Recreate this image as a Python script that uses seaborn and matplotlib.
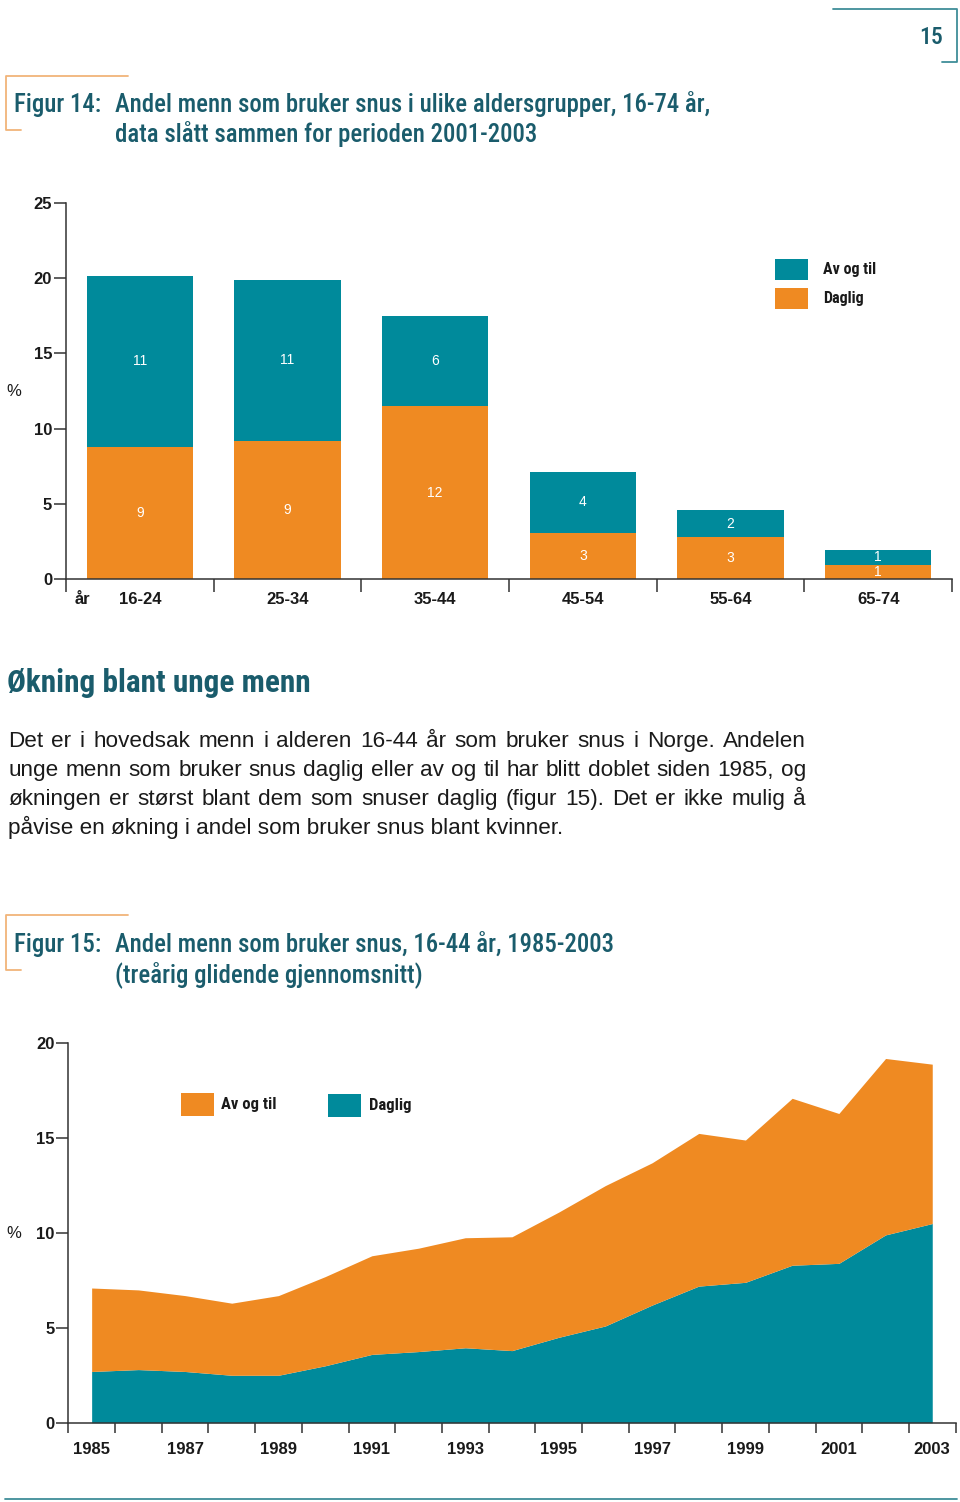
import numpy as np
import pandas as pd
import matplotlib
matplotlib.use("Agg")
import matplotlib.pyplot as plt
from matplotlib.patches import Rectangle
from matplotlib.lines import Line2D
import seaborn as sns

# Figur 14: andel menn som bruker snus, 2001-2003
age_groups = ["16-24", "25-34", "35-44", "45-54", "55-64", "65-74"]
daglig_14 = [8.8, 9.2, 11.5, 3.1, 2.8, 0.95]
av_og_til_14 = [11.35, 10.7, 6.0, 4.05, 1.8, 1.0]
daglig_14_labels = ["9", "9", "12", "3", "3", "1"]
av_og_til_14_labels = ["11", "11", "6", "4", "2", "1"]

# Figur 15: 16-44 år, treårig glidende gjennomsnitt
years = list(range(1985, 2004))
daglig_15 = [2.7, 2.8, 2.7, 2.5, 2.5, 3.0, 3.6, 3.75, 3.95, 3.8,
             4.5, 5.1, 6.2, 7.2, 7.4, 8.3, 8.4, 9.9, 10.5]
av_og_til_15 = [4.4, 4.2, 4.0, 3.8, 4.2, 4.7, 5.2, 5.45, 5.8, 6.0,
                6.6, 7.4, 7.5, 8.05, 7.5, 8.8, 7.9, 9.3, 8.4]
year_labels = [str(y) for y in range(1985, 2004, 2)]

paragraph = [
    "Det er i hovedsak menn i alderen 16-44 år som bruker snus i Norge. Andelen",
    "unge menn som bruker snus daglig eller av og til har blitt doblet siden 1985, og",
    "økningen er størst blant dem som snuser daglig (figur 15). Det er ikke mulig å",
    "påvise en økning i andel som bruker snus blant kvinner.",
]

TEAL = "#008a9b"
ORANGE = "#ef8a22"
TITLE = "#1a5c6c"
BRACKET_ORANGE = "#f1b47a"
BRACKET_TEAL = "#3f8e98"
AXIS = "#333333"
TEXT = "#1a1a1a"

SANS = ["Liberation Sans", "DejaVu Sans"]
NARROW = ["Roboto Condensed", "DejaVu Sans"]

sns.set_theme(style="white")
plt.rcParams["font.family"] = SANS

W, H = 960, 1502
fig = plt.figure(figsize=(W / 100, H / 100), dpi=100)
renderer = fig.canvas.get_renderer()


def fx(x):
    return x / W


def fy(y):
    return 1 - y / H


def page_line(xs, ys, color):
    fig.add_artist(Line2D([fx(x) for x in xs], [fy(y) for y in ys],
                          color=color, lw=1.3, transform=fig.transFigure))


def swatch(x0, y0, x1, y1, color, label, gap, size):
    # legend key drawn in page pixels
    fig.add_artist(Rectangle((fx(x0), fy(y1)), fx(x1) - fx(x0), (y1 - y0) / H,
                             color=color, lw=0, transform=fig.transFigure))
    fig.text(fx(x1 + gap), fy((y0 + y1) / 2), label, family=NARROW,
             fontweight="bold", fontsize=size, color=TEXT, va="center")


def justify(line, y, x0, x1, **kw):
    words = line.split()
    texts = [fig.text(0, fy(y), w, **kw) for w in words]
    widths = [t.get_window_extent(renderer).width for t in texts]
    gap = (x1 - x0 - sum(widths)) / (len(words) - 1)
    x = x0
    for t, w in zip(texts, widths):
        t.set_x(fx(x))
        x += w + gap


# page frame and number
page_line([833, 957, 957, 942], [9, 9, 62, 62], BRACKET_TEAL)
fig.text(fx(931), fy(37), "15", family=NARROW, fontsize=17, fontweight="medium",
         color=TITLE, ha="center", va="center")

# title brackets
for top, bottom in [(76, 130), (915, 970)]:
    page_line([128, 6, 6, 21], [top, top, bottom, bottom], BRACKET_ORANGE)

title_kw = dict(family=NARROW, fontsize=17.8, fontweight="medium", color=TITLE)
fig.text(fx(14), fy(112), "Figur 14:", **title_kw)
fig.text(fx(115), fy(112), "Andel menn som bruker snus i ulike aldersgrupper, 16-74 år,",
         **title_kw)
fig.text(fx(115), fy(142), "data slått sammen for perioden 2001-2003", **title_kw)

fig.text(fx(14), fy(952), "Figur 15:", **title_kw)
fig.text(fx(115), fy(952), "Andel menn som bruker snus, 16-44 år, 1985-2003", **title_kw)
fig.text(fx(115), fy(982), "(treårig glidende gjennomsnitt)", **title_kw)

# heading and body text
fig.text(fx(7), fy(692), "Økning blant unge menn", family=NARROW, fontsize=22.5,
         fontweight="bold", color=TITLE)
for i, line in enumerate(paragraph):
    if i < len(paragraph) - 1:
        justify(line, 747 + i * 29, 8, 806, fontsize=16.2, color=TEXT)
    else:
        fig.text(fx(8), fy(747 + i * 29), line, fontsize=16.2, color=TEXT)

# ---------- Figur 14: stacked bars ----------
df14 = pd.DataFrame({"gruppe": age_groups, "daglig": daglig_14, "av": av_og_til_14})
df14["total"] = df14["daglig"] + df14["av"]

ax1 = fig.add_axes([fx(66), fy(579.3), fx(952) - fx(66), (579.3 - 202.7) / H])
sns.barplot(data=df14, x="gruppe", y="total", color=TEAL, saturation=1,
            width=0.72, linewidth=0, ax=ax1)
sns.barplot(data=df14, x="gruppe", y="daglig", color=ORANGE, saturation=1,
            width=0.72, linewidth=0, ax=ax1)

for i in range(len(age_groups)):
    ax1.text(i, daglig_14[i] / 2, daglig_14_labels[i], color="white",
             ha="center", va="center", fontsize=10)
    ax1.text(i, daglig_14[i] + av_og_til_14[i] / 2, av_og_til_14_labels[i],
             color="white", ha="center", va="center", fontsize=10)

ax1.set_xlim(-0.5, len(age_groups) - 0.5)
ax1.set_ylim(0, 25)
ax1.set_yticks(range(0, 26, 5))
ax1.set_xticks(range(len(age_groups)))
ax1.set_xticklabels(age_groups)
ax1.set_xticks(np.arange(-0.5, len(age_groups)), minor=True)
ax1.set_xlabel("")
ax1.set_ylabel("")
ax1.tick_params(axis="x", which="major", length=0, pad=9)
ax1.tick_params(axis="x", which="minor", length=9, width=1.1, color=AXIS,
                direction="out", bottom=True)
ax1.tick_params(axis="y", length=9, width=1.1, color=AXIS, direction="out",
                left=True, pad=1)

swatch(775, 259, 808, 280, TEAL, "Av og til", 15, 11.5)
swatch(775, 288, 808, 309, ORANGE, "Daglig", 15, 11.5)

fig.text(fx(82), fy(599), "år", fontsize=12, fontweight="bold", color=TEXT,
         ha="center", va="center")
fig.text(fx(14), fy(391), "%", fontsize=12, color=TEXT, ha="center", va="center")

# ---------- Figur 15: stacked area ----------
df15 = pd.DataFrame({"år": years, "daglig": daglig_15, "av": av_og_til_15})

ax2 = fig.add_axes([fx(68.3), fy(1422.7), fx(955.6) - fx(68.3), (1422.7 - 1043.3) / H])
ax2.stackplot(df15["år"], df15["daglig"], df15["av"], colors=[TEAL, ORANGE],
              linewidth=0)
ax2.set_xlim(1984.5, 2003.5)
ax2.set_ylim(0, 20)
ax2.set_yticks(range(0, 21, 5))
ax2.set_xticks([int(y) for y in year_labels])
ax2.set_xticklabels(year_labels)
ax2.set_xticks(np.arange(1984.5, 2004), minor=True)
ax2.tick_params(axis="x", which="major", length=0, pad=14)
ax2.tick_params(axis="x", which="minor", length=7, width=1.1, color=AXIS,
                direction="out", bottom=True)
ax2.tick_params(axis="y", length=9, width=1.1, color=AXIS, direction="out",
                left=True, pad=1)

swatch(181, 1093, 214, 1116, ORANGE, "Av og til", 7, 12)
swatch(328, 1094, 361, 1117, TEAL, "Daglig", 8, 12)

fig.text(fx(14), fy(1234), "%", fontsize=12, color=TEXT, ha="center", va="center")

for ax in (ax1, ax2):
    sns.despine(ax=ax)
    for side in ("left", "bottom"):
        ax.spines[side].set_color(AXIS)
        ax.spines[side].set_linewidth(1.1)
    for lab in ax.get_xticklabels() + ax.get_yticklabels():
        lab.set_fontsize(12)
        lab.set_fontweight("bold")
        lab.set_color(TEXT)

# bottom page rule
page_line([5, 957], [1499, 1499], BRACKET_TEAL)

fig.savefig("out.png", dpi=100)
